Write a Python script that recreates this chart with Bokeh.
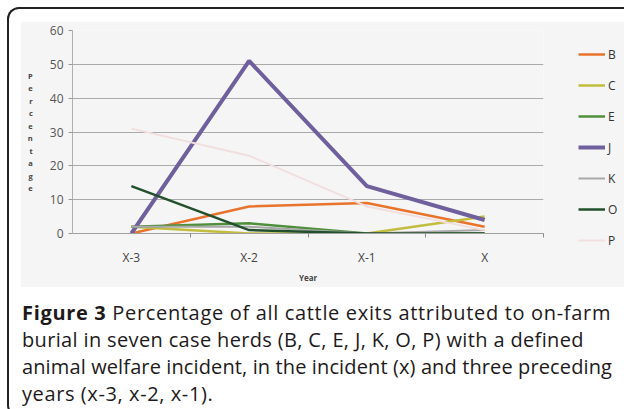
from bokeh.plotting import figure
from bokeh.models import FixedTicker, Legend, LegendItem, Div, ColumnDataSource, Spacer
from bokeh.layouts import column, row
from bokeh.embed import file_html
from bokeh.resources import INLINE

years = ["X-3", "X-2", "X-1", "X"]
herds = ["B", "C", "E", "J", "K", "O", "P"]
B = [0, 8, 9, 2]
C = [2, 0, 0, 5]
E = [2, 3, 0, 0]
J = [0, 51, 14, 4]
K = [2, 2, 0, 1]
O = [14, 1, 0, 0]
P = [31, 23, 8, 1]
y_ticks = [0, 10, 20, 30, 40, 50, 60]

series = {"B": B, "C": C, "E": E, "J": J, "K": K, "O": O, "P": P}
colors = {"B": "#e8732c", "C": "#c2bd3e", "E": "#4f8f3c", "J": "#6f5f9c",
          "K": "#a9a9a9", "O": "#22502c", "P": "#f2dede"}
widths = {"B": 2.5, "C": 2.5, "E": 2.5, "J": 4, "K": 2, "O": 2.5, "P": 2}

xs = [i + 0.5 for i in range(len(years))]
FONT = "Open Sans"
BG = "#f5f5f5"

p = figure(frame_width=471, frame_height=203, x_range=(0, len(years)), y_range=(0, 60),
           output_backend="svg", toolbar_location=None,
           background_fill_color=BG, border_fill_color=BG,
           outline_line_color=None,
           min_border_left=52, min_border_right=73, min_border_top=9, min_border_bottom=54)

items = []
for h in herds:
    src = ColumnDataSource(dict(x=xs, y=series[h]))
    r = p.line("x", "y", source=src, line_color=colors[h], line_width=widths[h])
    items.append(LegendItem(label=h, renderers=[r]))

legend = Legend(items=items, location=(35, -17), orientation="vertical",
                glyph_width=27, glyph_height=20, label_height=20, spacing=11,
                padding=0, margin=0, label_standoff=3,
                background_fill_alpha=0, border_line_alpha=0,
                label_text_font=FONT, label_text_font_size="12px", label_text_color="#333333")
p.add_layout(legend, "right")

# x axis
p.xaxis.ticker = FixedTicker(ticks=xs, minor_ticks=[1, 2, 3, 4])
p.xaxis.major_label_overrides = {x: y for x, y in zip(xs, years)}
p.xaxis.major_tick_out = 0
p.xaxis.major_tick_in = 0
p.xaxis.minor_tick_out = 4
p.xaxis.minor_tick_in = 0
p.xaxis.minor_tick_line_color = "#888888"
p.xaxis.axis_line_color = "#a0a0a0"
p.xaxis.major_label_standoff = 11
p.xaxis.major_label_text_font = FONT
p.xaxis.major_label_text_font_size = "12px"
p.xaxis.major_label_text_color = "#444444"
p.xaxis.axis_label = "Year"
p.xaxis.axis_label_text_font = FONT
p.xaxis.axis_label_text_font_size = "8px"
p.xaxis.axis_label_text_font_style = "bold"
p.xaxis.axis_label_text_color = "#444444"
p.xaxis.axis_label_standoff = 3

# y axis
p.yaxis.ticker = FixedTicker(ticks=y_ticks)
p.yaxis.major_tick_out = 4
p.yaxis.major_tick_in = 0
p.yaxis.minor_tick_line_color = None
p.yaxis.major_tick_line_color = "#999999"
p.yaxis.axis_line_color = "#b0b0b0"
p.yaxis.major_label_standoff = 5
p.yaxis.major_label_text_font = FONT
p.yaxis.major_label_text_font_size = "12px"
p.yaxis.major_label_text_color = "#555555"
p.yaxis.axis_label = "\n".join("Percentage")
p.yaxis.axis_label_orientation = "horizontal"
p.yaxis.axis_label_text_font = FONT
p.yaxis.axis_label_text_font_size = "7.5px"
p.yaxis.axis_label_text_font_style = "bold"
p.yaxis.axis_label_text_color = "#444444"
p.yaxis.axis_label_text_line_height = 1.25
p.yaxis.axis_label_standoff = 14

p.xgrid.grid_line_color = None
p.ygrid.grid_line_color = "#aaaaaa"
p.ygrid.grid_line_width = 1

caption_lines = [
    ('<b>Figure 3</b> Percentage of all cattle exits attributed to on-farm', 0.67),
    ('burial in seven case herds (B, C, E, J, K, O, P) with a defined', 0.35),
    ('animal welfare incident, in the incident (x) and three preceding', 0.12),
    ('years (x-3, x-2, x-1).', 0.6),
]
caption_html = (
    '<div style="font-family:\'Open Sans\',sans-serif;font-size:20px;line-height:27px;'
    'color:#1e1a1b;padding-top:7px;padding-left:8px;white-space:nowrap;">'
    + "".join('<div style="letter-spacing:%spx;">%s</div>' % (s, t) for t, s in caption_lines)
    + '</div>'
)
INNER_W = 615
cap = Div(text=caption_html, width=INNER_W, height=118)

inner = column(Spacer(height=12, width=INNER_W), row(Spacer(width=11, height=266), p), cap,
               styles={"border-left": "2px solid #222222",
                       "border-top": "2px solid #222222",
                       "border-bottom": "2px solid #222222",
                       "border-radius": "12px 12px 0 12px",
                       "background-color": "#ffffff"})
layout = column(Spacer(height=7, width=INNER_W + 2), row(Spacer(width=7, height=400), inner))

open("out.html", "w").write(file_html(layout, INLINE))
